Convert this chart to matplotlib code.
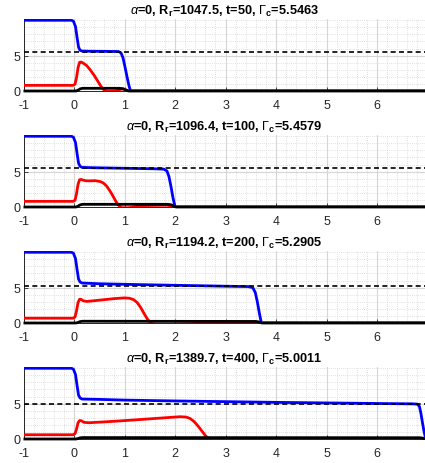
import matplotlib
matplotlib.use("Agg")
import matplotlib.pyplot as plt
from matplotlib.ticker import MultipleLocator

plt.rcParams['font.family'] = ['Liberation Sans', 'DejaVu Sans']
plt.rcParams['mathtext.fontset'] = 'custom'
plt.rcParams['mathtext.rm'] = 'Liberation Sans'
plt.rcParams['mathtext.it'] = 'Liberation Sans:italic'
plt.rcParams['mathtext.bf'] = 'Liberation Sans:bold'
plt.rcParams['axes.unicode_minus'] = False

# ---------------- data ----------------
titles = [r'$\alpha$=0, R$_{\bf r}$=1047.5, t=50, $\Gamma_{\bf c}$=5.5463',
          r'$\alpha$=0, R$_{\bf r}$=1096.4, t=100, $\Gamma_{\bf c}$=5.4579',
          r'$\alpha$=0, R$_{\bf r}$=1194.2, t=200, $\Gamma_{\bf c}$=5.2905',
          r'$\alpha$=0, R$_{\bf r}$=1389.7, t=400, $\Gamma_{\bf c}$=5.0011']
gamma_c = [5.5463, 5.4579, 5.2905, 5.0011]

# panel 1 (t=50)
b1x = [-1, -0.05, -0.01, 0.03, 0.06, 0.09, 0.12, 0.16, 0.3, 0.6, 0.88, 0.93, 0.97, 1.01, 1.05, 1.09, 1.12, 6.95]
b1y = [10, 10, 9.85, 9.1, 7.6, 6.2, 5.75, 5.65, 5.62, 5.6, 5.58, 5.4, 4.7, 3.4, 2.0, 0.7, 0, 0]
r1x = [-1, -0.02, 0.02, 0.05, 0.08, 0.11, 0.14, 0.18, 0.25, 0.32, 0.4, 0.47, 0.53, 0.58, 0.62, 0.66, 0.75, 0.83, 0.9, 0.97, 1.03, 1.08, 6.95]
r1y = [0.8, 0.8, 0.95, 1.9, 3.3, 4.05, 4.1, 3.95, 3.6, 3.0, 2.2, 1.4, 0.7, 0.25, 0.0, -0.05, -0.05, 0.0, 0.2, 0.3, 0.15, 0, 0]
k1x = [-1, 0.04, 0.08, 0.12, 0.17, 0.9, 0.97, 1.03, 1.08, 6.95]
k1y = [0, 0, 0.12, 0.3, 0.38, 0.38, 0.32, 0.12, 0, 0]

# panel 2 (t=100)
b2x = [-1, -0.05, -0.01, 0.03, 0.06, 0.09, 0.12, 0.16, 0.4, 0.8, 1.2, 1.6, 1.78, 1.84, 1.88, 1.92, 1.96, 2.0, 6.95]
b2y = [10, 10, 9.85, 9.1, 7.6, 6.2, 5.75, 5.6, 5.55, 5.5, 5.45, 5.4, 5.35, 5.1, 4.3, 2.9, 1.3, 0, 0]
r2x = [-1, -0.02, 0.02, 0.05, 0.08, 0.11, 0.14, 0.18, 0.24, 0.32, 0.42, 0.52, 0.58, 0.64, 0.7, 0.76, 0.82, 0.87, 0.91, 0.95, 1.05, 1.15, 1.25, 1.35, 1.85, 1.93, 1.99, 6.95]
r2y = [0.8, 0.8, 0.95, 1.9, 3.2, 3.85, 3.9, 3.8, 3.7, 3.7, 3.72, 3.6, 3.4, 3.0, 2.4, 1.7, 0.9, 0.35, 0.05, -0.1, -0.12, -0.05, 0.1, 0.2, 0.25, 0.12, 0, 0]
k2x = [-1, 0.04, 0.08, 0.12, 0.17, 1.85, 1.92, 1.98, 2.02, 6.95]
k2y = [0, 0, 0.12, 0.3, 0.38, 0.38, 0.32, 0.12, 0, 0]

# panel 3 (t=200)
b3x = [-1, -0.05, -0.01, 0.03, 0.06, 0.09, 0.12, 0.16, 0.5, 1.0, 1.5, 2.0, 2.5, 3.0, 3.45, 3.54, 3.59, 3.63, 3.67, 3.71, 6.95]
b3y = [10, 10, 9.85, 9.1, 7.6, 6.2, 5.8, 5.65, 5.55, 5.47, 5.4, 5.33, 5.27, 5.2, 5.15, 5.0, 4.3, 3.0, 1.4, 0, 0]
r3x = [-1, -0.02, 0.02, 0.05, 0.08, 0.11, 0.14, 0.18, 0.25, 0.4, 0.6, 0.8, 1.0, 1.1, 1.18, 1.25, 1.32, 1.39, 1.45, 1.5, 1.55, 1.65, 1.9, 2.2, 2.5, 3.0, 3.6, 3.7, 6.95]
r3y = [0.68, 0.68, 0.85, 1.7, 2.9, 3.35, 3.35, 3.15, 3.05, 3.15, 3.3, 3.45, 3.55, 3.5, 3.3, 2.9, 2.2, 1.3, 0.6, 0.15, -0.1, -0.17, -0.17, -0.12, -0.05, 0.0, 0.02, 0, 0]
k3x = [-1, 0.04, 0.08, 0.12, 0.17, 3.6, 3.66, 3.72, 6.95]
k3y = [0, 0, 0.08, 0.2, 0.25, 0.22, 0.15, 0, 0]

# panel 4 (t=400)
b4x = [-1, -0.05, -0.01, 0.03, 0.06, 0.09, 0.12, 0.16, 0.5, 1, 2, 3, 4, 5, 6, 6.7, 6.8, 6.84, 6.87, 6.9, 6.93, 6.95]
b4y = [10, 10, 9.85, 9.1, 7.6, 6.2, 5.8, 5.65, 5.6, 5.5, 5.38, 5.28, 5.18, 5.1, 5.02, 4.97, 4.93, 4.6, 3.6, 2.3, 1.1, 0.5]
r4x = [-1, -0.02, 0.02, 0.05, 0.08, 0.11, 0.14, 0.2, 0.3, 0.6, 1.0, 1.4, 1.8, 2.1, 2.22, 2.3, 2.38, 2.46, 2.54, 2.61, 2.67, 2.75, 3.0, 3.5, 4.5, 6.8, 6.95]
r4y = [0.6, 0.6, 0.75, 1.4, 2.3, 2.6, 2.6, 2.35, 2.3, 2.42, 2.6, 2.8, 3.0, 3.15, 3.1, 2.9, 2.45, 1.8, 1.05, 0.4, 0.05, -0.1, -0.1, -0.08, -0.05, -0.05, -0.05]
k4x = [-1, 0.04, 0.08, 0.12, 0.17, 6.85, 6.92, 6.95]
k4y = [0, 0, 0.07, 0.16, 0.2, 0.18, 0.1, 0.05]

blue = [(b1x, b1y), (b2x, b2y), (b3x, b3y), (b4x, b4y)]
red = [(r1x, r1y), (r2x, r2y), (r3x, r3y), (r4x, r4y)]
black = [(k1x, k1y), (k2x, k2y), (k3x, k3y), (k4x, k4y)]

xticks = [-1, 0, 1, 2, 3, 4, 5, 6]
yticks = [0, 5]

# ---------------- figure ----------------
W, H = 425, 464
fig = plt.figure(figsize=(W / 100, H / 100), dpi=100)

ax_left = 23.5 / W
ax_w = (W - 23.5) / W
ax_h = 72.5 / H

for k in range(4):
    zero_px = 92 + 116 * k
    ax = fig.add_axes([ax_left, (H - zero_px) / H, ax_w, ax_h])
    ax.set_xlim(-1, 6.95)
    ax.set_ylim(0, 10.25)
    ax.set_xticks(xticks)
    ax.set_yticks(yticks)
    ax.xaxis.set_minor_locator(MultipleLocator(0.2))
    ax.yaxis.set_minor_locator(MultipleLocator(1))
    ax.grid(True, which='major', color='#d6d6d6', lw=0.8, ls='-', zorder=0)
    ax.grid(True, which='minor', color='#d6d6d6', lw=0.6, ls=(0, (1, 1.5)), zorder=0)
    ax.set_axisbelow(True)
    for s in ['top', 'right']:
        ax.spines[s].set_visible(False)
    ax.spines['left'].set_color('#262626')
    ax.spines['left'].set_linewidth(0.7)
    ax.spines['bottom'].set_color('#262626')
    ax.spines['bottom'].set_linewidth(0.7)
    ax.tick_params(which='major', direction='in', length=3, width=0.6,
                   labelsize=9, colors='#262626', labelcolor='#262626')
    ax.tick_params(axis='x', pad=6)
    ax.tick_params(axis='y', pad=2)
    ax.tick_params(which='minor', length=0)

    bx, by = blue[k]
    rx, ry = red[k]
    kx, ky = black[k]
    ax.plot(bx, by, color='#0000ff', lw=2.0, zorder=3, solid_joinstyle='round')
    ax.plot(rx, ry, color='#ff0000', lw=2.0, zorder=4, solid_joinstyle='round')
    ax.plot(kx, ky, color='black', lw=2.0, zorder=5, clip_on=False, solid_capstyle='butt')
    ax.axhline(gamma_c[k], color='black', lw=1.2, ls=(0, (3, 2)), zorder=6)
    ax.set_title(titles[k], fontsize=9.2, fontweight='bold', pad=3)

fig.savefig('out.png', dpi=100)
